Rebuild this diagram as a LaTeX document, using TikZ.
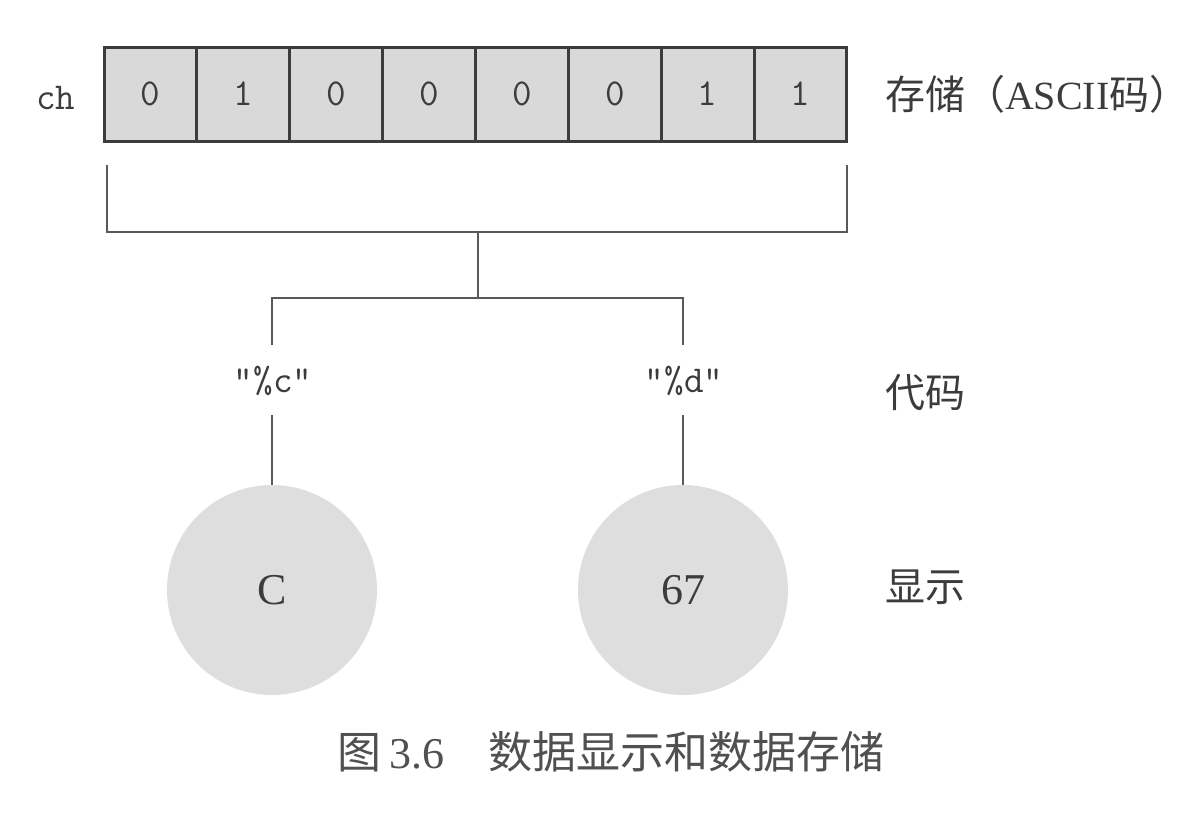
\documentclass[tikz,border=0pt]{standalone}
\usepackage{fontspec}
\setmainfont{Liberation Serif}
\newfontfamily\cjk{Noto Sans CJK SC}
\usetikzlibrary{positioning}
\definecolor{cellgray}{HTML}{D9D9D9}
\definecolor{ballgray}{HTML}{DEDEDE}
\definecolor{ink}{HTML}{3C3C3C}

\begin{document}
\begin{tikzpicture}[x=0.5pt,y=-0.5pt,
  cell/.style={draw=ink,line width=1.5pt,fill=cellgray,minimum width=46.4pt,minimum height=47pt,
    inner sep=0pt,text=ink,font=\fontsize{19}{22}\selectfont\ttfamily},
  wire/.style={draw=ink!85,line width=0.9pt},
  ball/.style={circle,fill=ballgray,minimum size=105pt,inner sep=0pt,text=ink,font=\fontsize{22}{25}\selectfont},
  code/.style={text=ink,font=\fontsize{19}{22}\selectfont\ttfamily},
  side/.style={anchor=west,text=ink,font=\fontsize{20}{24}\selectfont}]
\useasboundingbox (0,0) rectangle (1196,815);
%\pgfsetlinewidth{.5pt}
\foreach \b [count=\i] in {0,1,0,0,0,0,1,1}
  \node[cell] (b\i) at ({104+92.875*(\i-0.5)},94) {\b};
\node[code] (ch) at (56,98) {ch};
\node[side] (store) at (878,94) {{\cjk 存储（}ASCII{\cjk 码）}};

\coordinate (tl) at (107,165); \coordinate (tr) at (847,165);
\coordinate (jl) at (107,232); \coordinate (jr) at (847,232);
\coordinate (j1) at (478,232); \coordinate (j2) at (478,298);
\coordinate (ac) at (272,345); \coordinate (ad) at (683,345);
\draw[wire] (tl) -- (jl) -- (jr) -- (tr);
\draw[wire] (j1) -- (j2);
\draw[wire] (ac) |- (j2) -| (ad);

\node[code] (fc) at (273,381) {"\%c"};
\node[code] (fd) at (684,381) {"\%d"};
\node[side] (code) at (878,393) {\cjk 代码};

\node[ball] (vc) at (272,590) {C};
\node[ball] (vd) at (683,590) {67};
\node[side] (show) at (878,587) {\cjk 显示};
\coordinate (bc) at (272,415); \coordinate (bd) at (683,415);
\draw[wire] (bc) -- (vc.north);
\draw[wire] (bd) -- (vd.north);

\node[text=ink!90,font=\fontsize{22}{26}\selectfont] (cap) at (611,752) {{\cjk 图}\,3.6\hspace{1em}{\cjk 数据显示和数据存储}};
\end{tikzpicture}
\end{document}
